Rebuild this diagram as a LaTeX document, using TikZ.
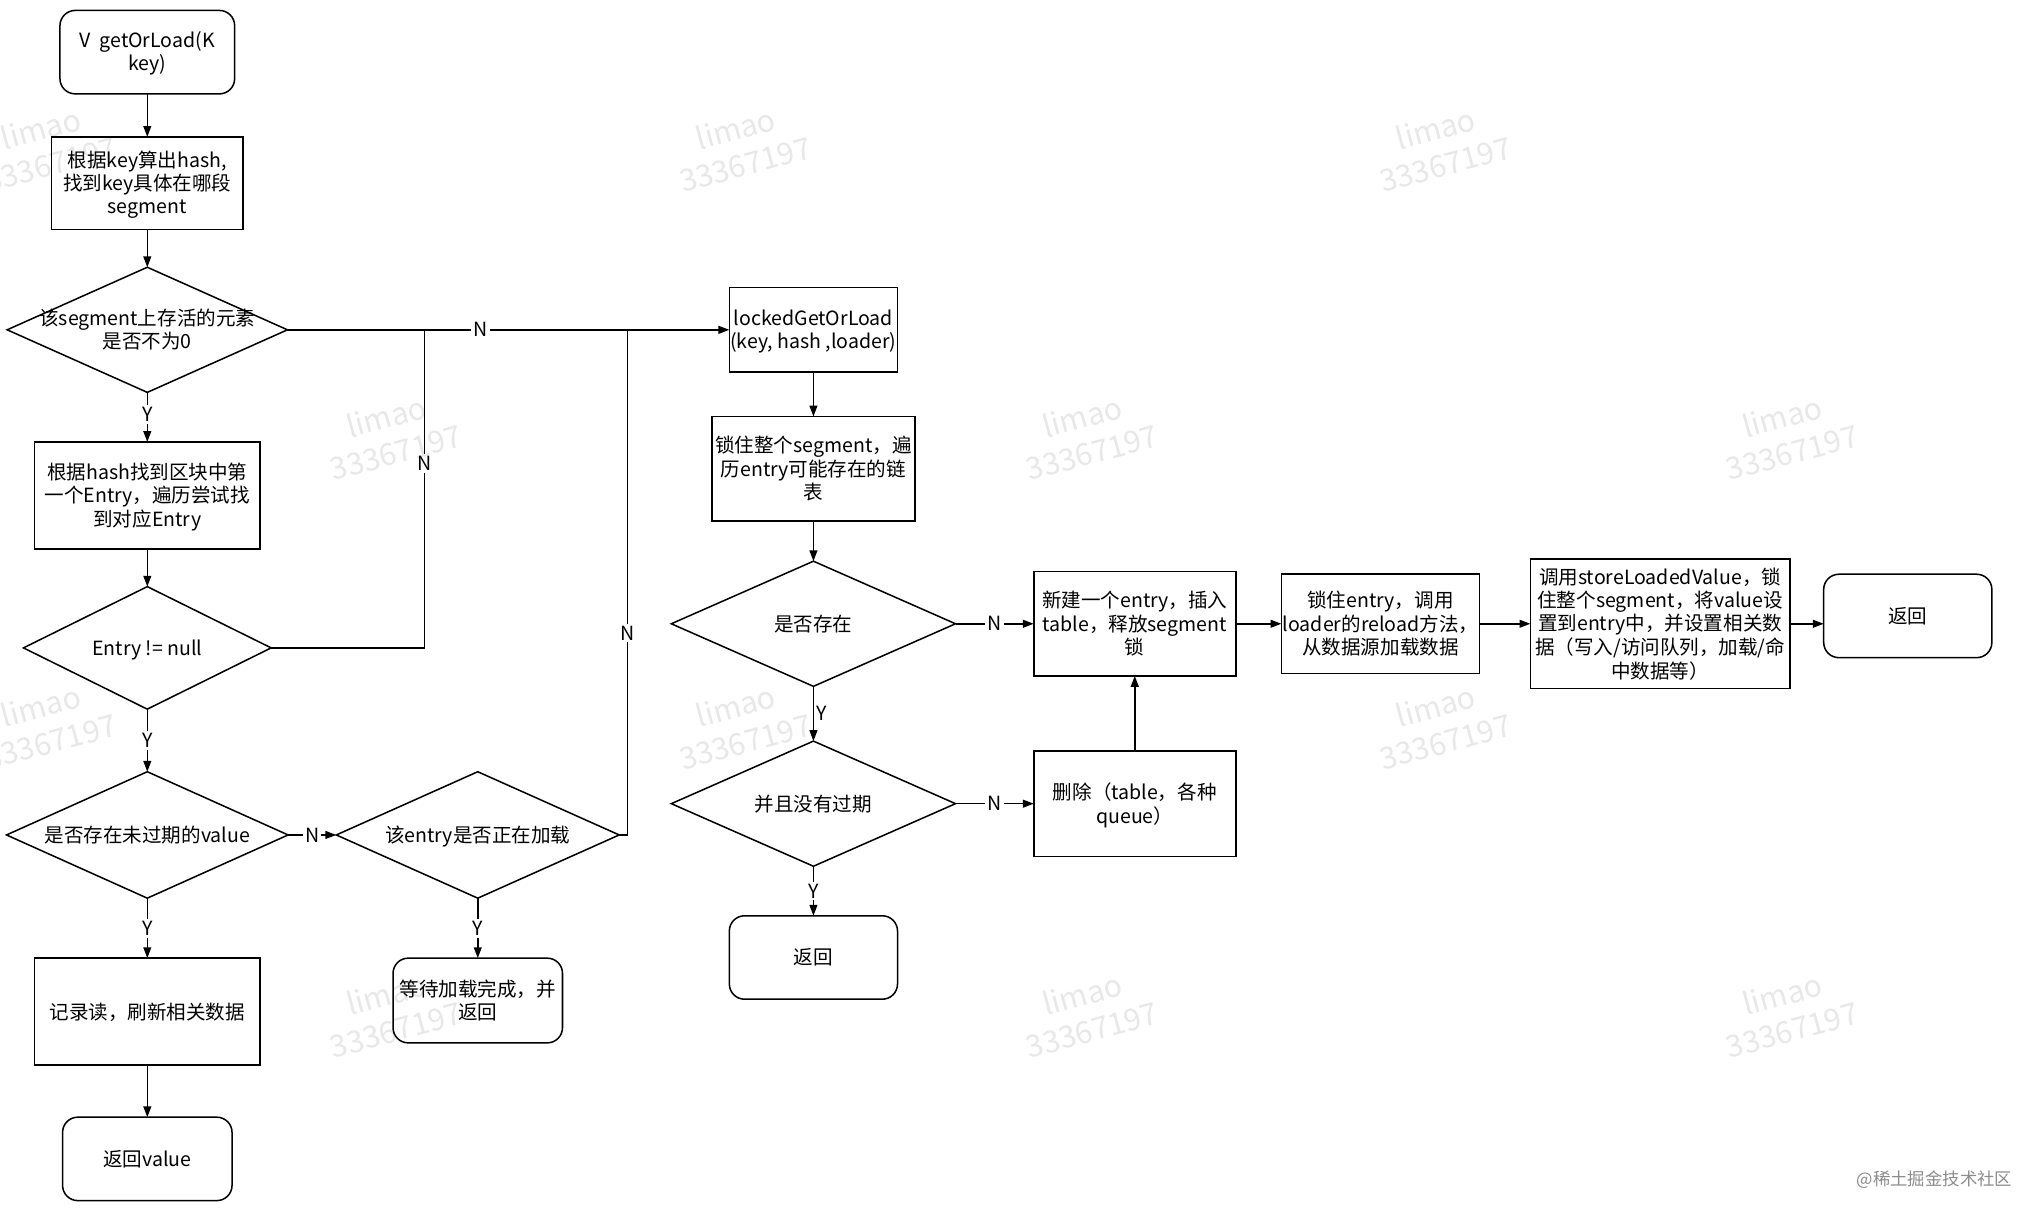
\documentclass[tikz,border=0pt]{standalone}
\usepackage{fontspec}
\setmainfont{Noto Sans CJK SC}
\usetikzlibrary{arrows.meta, positioning, shapes.geometric}

\newcommand{\fixw}[1]{\makebox[0pt]{\raisebox{-1.2pt}[\height][\depth]{\begin{tabular}{@{}c@{}}#1\end{tabular}}}}

\begin{document}
\begin{tikzpicture}[
        x=0.6pt, y=-0.6pt,
        font=\fontsize{9}{10.5}\selectfont,
        line width=0.7pt,
        box/.style 2 args={draw, rectangle, fill=white, inner sep=0pt, outer sep=0pt, minimum width=#1, minimum height=#2},
        term/.style 2 args={box={#1}{#2}, rounded corners=7pt},
        dia/.style 2 args={draw, diamond, fill=white, inner sep=0pt, outer sep=0pt, minimum width=#1, minimum height=#2},
        arrow/.style={-{Triangle[length=5pt, width=3.6pt]}},
        lbl/.style={fill=white, inner sep=1pt},
        wmark/.style={text=black, text opacity=0.09, rotate=15, align=center, font=\fontsize{14}{17}\selectfont}
    ]
        \useasboundingbox (0,0) rectangle (1568,937);

        % Nodes
        \node[term={80.4pt}{38.4pt}] (start) at (113,40) {\fixw{V~~getOrLoad(K\\key)}};
        \node[box={88.2pt}{42.6pt}, below=19.8pt of start] (hash) {\fixw{根据key算出hash,\\找到key具体在哪段\\segment}};
        \node[dia={129pt}{57.6pt}, below=17.4pt of hash] (live) {\fixw{该segment上存活的元素\\是否不为0}};
        \node[box={103.8pt}{49.2pt}, below=22.8pt of live] (first) {\fixw{根据hash找到区块中第\\一个Entry，遍历尝试找\\到对应Entry}};
        \node[dia={114pt}{56.4pt}, below=17.4pt of first] (notnull) {\fixw{Entry != null}};
        \node[dia={129.6pt}{58.2pt}, below=28.8pt of notnull] (fresh) {\fixw{是否存在未过期的value}};
        \node[box={103.8pt}{49.2pt}, below=27.6pt of fresh] (record) {\fixw{记录读，刷新相关数据}};
        \node[term={78pt}{38.4pt}, below=24pt of record] (retval) {\fixw{返回value}};
        \node[dia={130.2pt}{58.2pt}, right=22.2pt of fresh] (loading) {\fixw{该entry是否正在加载}};
        \node[term={78pt}{39pt}, below=27.6pt of loading] (wait) {\fixw{等待加载完成，并\\返回}};

        \node[box={77.4pt}{39pt}, right=203.4pt of live] (locked) {\fixw{lockedGetOrLoad\\(key, hash ,loader)}};
        \node[box={93.6pt}{48pt}, below=20.4pt of locked] (lockseg) {\fixw{锁住整个segment，遍\\历entry可能存在的链\\表}};
        \node[dia={130.8pt}{57.6pt}, below=18.6pt of lockseg] (exists) {\fixw{是否存在}};
        \node[dia={130.8pt}{57.6pt}, below=25.2pt of exists] (valid) {\fixw{并且没有过期}};
        \node[term={77.4pt}{38.4pt}, below=22.8pt of valid] (ret2) {\fixw{返回}};
        \node[box={93pt}{48pt}, right=36pt of exists] (newentry) {\fixw{新建一个entry，插入\\table，释放segment\\锁}};
        \node[box={93pt}{48.6pt}, right=36pt of valid] (delete) {\fixw{删除（table，各种\\queue）}};
        \node[box={91.2pt}{45.6pt}, right=21pt of newentry] (lockentry) {\fixw{锁住entry，调用\\loader的reload方法，\\从数据源加载数据}};
        \node[box={119.4pt}{59.4pt}, right=23.4pt of lockentry] (store) {\fixw{调用storeLoadedValue，锁\\住整个segment，将value设\\置到entry中，并设置相关数\\据（写入/访问队列，加载/命\\中数据等）}};
        \node[term={77.4pt}{38.4pt}, right=15.6pt of store, yshift=3.6pt] (ret3) {\fixw{返回}};

        \path (live.east) -- (locked.west) coordinate[pos=0.31] (j1) coordinate[pos=0.77] (j2);

        % Arrows and Labels
        \draw[arrow] (start) -- (hash);
        \draw[arrow] (hash) -- (live);
        \draw[arrow] (live) -- node[lbl, pos=0.45] {Y} (first);
        \draw[arrow] (live.east) -- node[lbl, pos=0.437] {N} (locked.west);
        \draw (notnull.east) -| node[lbl, pos=0.79] {N} (j1);
        \draw (loading.east) -| node[lbl, pos=0.7] {N} (j2);
        \draw[arrow] (first) -- (notnull);
        \draw[arrow] (notnull) -- node[lbl] {Y} (fresh);
        \draw[arrow] (fresh) -- node[lbl] {N} (loading);
        \draw[arrow] (fresh) -- node[lbl] {Y} (record);
        \draw[arrow] (loading) -- node[lbl] {Y} (wait);
        \draw[arrow] (record) -- (retval);

        \draw[arrow] (locked) -- (lockseg);
        \draw[arrow] (lockseg) -- (exists);
        \draw[arrow] (exists) -- node[lbl] {N} (newentry);
        \draw[arrow] (exists) -- node[right, inner sep=1pt] {Y} (valid);
        \draw[arrow] (valid) -- node[lbl] {N} (delete);
        \draw[arrow] (valid) -- node[lbl] {Y} (ret2);
        \draw[arrow] (delete) -- (newentry);
        \draw[arrow] (newentry) -- (lockentry);
        \draw[arrow] (lockentry) -- (store);
        \draw[arrow] (store.east) -- (store.east -| ret3.west);

        % Watermarks
        \foreach \x/\y [count=\i] in {35/112, 568/112, 1105/112, 300/333, 834/333, 1371/333,
                                      35/555, 568/555, 1105/555, 300/776, 834/776, 1371/776}
            \node[wmark] (wm\i) at (\x,\y) {limao\\33367197};
        \node[text=black!45, font=\fontsize{8}{9}\selectfont] (credit) at (1484,905) {@稀土掘金技术社区};
    \end{tikzpicture}
\end{document}
